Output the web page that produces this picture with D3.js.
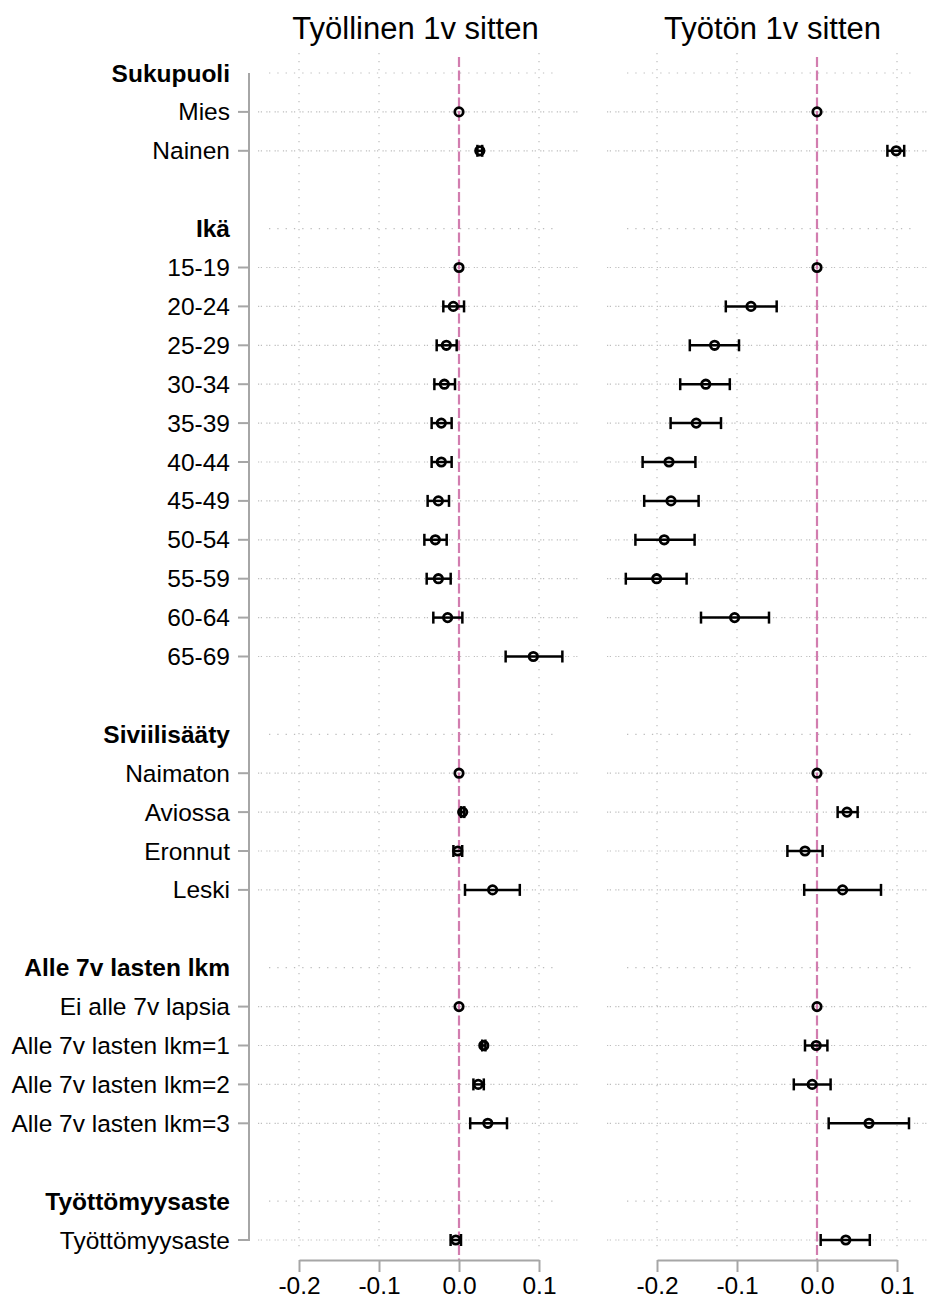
<!DOCTYPE html>
<html>
<head>
<meta charset="utf-8">
<script src="https://cdn.jsdelivr.net/npm/d3@7"></script>
<style>
  html, body { margin: 0; padding: 0; background: #fff; }
  svg { display: block; font-family: "Liberation Sans", Arial, sans-serif; }
</style>
</head>
<body>
<svg id="chart" width="933" height="1299"></svg>
<script>
// ---------------- DATA ----------------
const panelTitles = ["Työllinen 1v sitten", "Työtön 1v sitten"];
const headerRows = ["Sukupuoli", "Ikä", "Siviilisääty", "Alle 7v lasten lkm", "Työttömyysaste"];
const groupCategories = [
  ["Mies", "Nainen"],
  ["15-19", "20-24", "25-29", "30-34", "35-39", "40-44", "45-49", "50-54", "55-59", "60-64", "65-69"],
  ["Naimaton", "Aviossa", "Eronnut", "Leski"],
  ["Ei alle 7v lapsia", "Alle 7v lasten lkm=1", "Alle 7v lasten lkm=2", "Alle 7v lasten lkm=3"],
  ["Työttömyysaste"]
];
const xTicks = [-0.2, -0.1, 0.0, 0.1];

// Panel 1: Työllinen 1v sitten (estimates, lower CI, upper CI) in category order
const employedEst = [0, 0.026,
  0, -0.0071, -0.0158, -0.0183, -0.0221, -0.0221, -0.0258, -0.0296, -0.0258, -0.0142, 0.0929,
  0, 0.0046, -0.0015, 0.042,
  0, 0.031, 0.024, 0.036,
  -0.004];
const employedLo = [null, 0.023,
  null, -0.0196, -0.0279, -0.0308, -0.0342, -0.0342, -0.0392, -0.0433, -0.0404, -0.0321, 0.0583,
  null, 0.0026, -0.007, 0.0075,
  null, 0.029, 0.018, 0.014,
  -0.0105];
const employedHi = [null, 0.029,
  null, 0.0063, -0.0029, -0.005, -0.0092, -0.0092, -0.0125, -0.0154, -0.0104, 0.0042, 0.1292,
  null, 0.0066, 0.004, 0.076,
  null, 0.033, 0.031, 0.060,
  0.0025];

// Panel 2: Työtön 1v sitten
const unemployedEst = [0, 0.099,
  0, -0.0825, -0.128, -0.139, -0.151, -0.185, -0.1825, -0.191, -0.2004, -0.103, null,
  0, 0.0375, -0.015, 0.032,
  0, -0.001, -0.006, 0.065,
  0.036];
const unemployedLo = [null, 0.088,
  null, -0.114, -0.159, -0.171, -0.183, -0.218, -0.216, -0.227, -0.239, -0.145, null,
  null, 0.0258, -0.037, -0.016,
  null, -0.015, -0.029, 0.0146,
  0.0046];
const unemployedHi = [null, 0.109,
  null, -0.0504, -0.0975, -0.109, -0.120, -0.152, -0.148, -0.153, -0.163, -0.060, null,
  null, 0.0508, 0.007, 0.080,
  null, 0.013, 0.017, 0.115,
  0.066];

// ---------------- BUILD ROWS ----------------
const rows = [];
headerRows.forEach((h, gi) => {
  rows.push({id: "h" + gi, label: h, type: "header"});
  groupCategories[gi].forEach((c, ci) => rows.push({id: "c" + gi + "_" + ci, label: c, type: "cat"}));
  if (gi < headerRows.length - 1) rows.push({id: "g" + gi, label: "", type: "gap"});
});
const catRows = rows.filter(r => r.type === "cat");

const panels = [
  {title: panelTitles[0], est: employedEst, lo: employedLo, hi: employedHi,
   range: [299, 539], gridX: [258, 578], headX: [269, 555], titleX: 415.5},
  {title: panelTitles[1], est: unemployedEst, lo: unemployedLo, hi: unemployedHi,
   range: [657, 897], gridX: [607, 927], headX: [627, 913], titleX: 772.5}
];

// ---------------- DRAW ----------------
const svg = d3.select("#chart");
const y = d3.scalePoint().domain(rows.map(r => r.id)).range([73, 1240]);

const gridColor = "#bdbdbd";
const axisColor = "#a6a6a6";
const refColor = "#d27daf";

panels.forEach((p) => {
  const x = d3.scaleLinear().domain([xTicks[0], xTicks[xTicks.length - 1]]).range(p.range);
  const g = svg.append("g");

  // vertical grid
  g.selectAll("line.vgrid").data(xTicks.filter(t => t !== 0)).join("line")
    .attr("x1", d => x(d)).attr("x2", d => x(d))
    .attr("y1", 53).attr("y2", 1253)
    .attr("stroke", gridColor).attr("stroke-width", 1.2)
    .attr("stroke-dasharray", "1.3,6.7");

  // horizontal grid for category rows
  g.selectAll("line.hgrid").data(catRows).join("line")
    .attr("x1", p.gridX[0]).attr("x2", p.gridX[1])
    .attr("y1", d => y(d.id)).attr("y2", d => y(d.id))
    .attr("stroke", gridColor).attr("stroke-width", 1.2)
    .attr("stroke-dasharray", "1.2,1.6,1.2,4.3");

  // horizontal grid for header rows
  g.selectAll("line.hhead").data(rows.filter(r => r.type === "header")).join("line")
    .attr("x1", p.headX[0]).attr("x2", p.headX[1])
    .attr("y1", d => y(d.id)).attr("y2", d => y(d.id))
    .attr("stroke", gridColor).attr("stroke-width", 1.2)
    .attr("stroke-dasharray", "1.3,7");

  // reference line at 0
  g.append("line")
    .attr("x1", x(0)).attr("x2", x(0))
    .attr("y1", 57).attr("y2", 1260)
    .attr("stroke", refColor).attr("stroke-width", 2.2)
    .attr("stroke-dasharray", "10,3.5");

  // x axis
  const axis = d3.axisBottom(x).tickValues(xTicks).tickSizeOuter(0).tickSizeInner(12).tickPadding(5)
    .tickFormat(d => d3.format(".1f")(d).replace("\u2212", "-"));
  const ax = g.append("g").attr("transform", "translate(0,1260)").call(axis);
  ax.select(".domain").attr("stroke", axisColor).attr("stroke-width", 2);
  ax.selectAll(".tick line").attr("stroke", axisColor).attr("stroke-width", 2);
  ax.selectAll(".tick text").attr("fill", "#000").attr("font-size", 24.5)
    .attr("font-family", "Liberation Sans, Arial, sans-serif").attr("dy", "0.71em");

  // title
  g.append("text").attr("x", p.titleX).attr("y", 39)
    .attr("text-anchor", "middle").attr("font-size", 31).attr("fill", "#000")
    .text(p.title);

  // data
  const pts = catRows.map((r, i) => ({id: r.id, est: p.est[i], lo: p.lo[i], hi: p.hi[i]}))
    .filter(d => d.est !== null);
  const ci = pts.filter(d => d.lo !== null);
  g.selectAll("line.ci").data(ci).join("line")
    .attr("x1", d => x(d.lo)).attr("x2", d => x(d.hi))
    .attr("y1", d => y(d.id)).attr("y2", d => y(d.id))
    .attr("stroke", "#000").attr("stroke-width", 2.5);
  g.selectAll("line.capl").data(ci).join("line")
    .attr("x1", d => x(d.lo)).attr("x2", d => x(d.lo))
    .attr("y1", d => y(d.id) - 6).attr("y2", d => y(d.id) + 6)
    .attr("stroke", "#000").attr("stroke-width", 2.5);
  g.selectAll("line.caph").data(ci).join("line")
    .attr("x1", d => x(d.hi)).attr("x2", d => x(d.hi))
    .attr("y1", d => y(d.id) - 6).attr("y2", d => y(d.id) + 6)
    .attr("stroke", "#000").attr("stroke-width", 2.5);
  g.selectAll("circle.pt").data(pts).join("circle")
    .attr("cx", d => x(d.est)).attr("cy", d => y(d.id)).attr("r", 4.2)
    .attr("fill", "none").attr("stroke", "#000").attr("stroke-width", 2.8);
});

// y axis
const yax = svg.append("g");
yax.append("line").attr("x1", 249).attr("x2", 249).attr("y1", 73).attr("y2", 1241)
  .attr("stroke", axisColor).attr("stroke-width", 2);
yax.selectAll("line.yt").data(catRows).join("line")
  .attr("x1", 238).attr("x2", 249)
  .attr("y1", d => y(d.id)).attr("y2", d => y(d.id))
  .attr("stroke", axisColor).attr("stroke-width", 2);
yax.selectAll("text.yl").data(rows.filter(r => r.type !== "gap")).join("text")
  .attr("x", 230).attr("y", d => y(d.id)).attr("dy", "0.35em")
  .attr("text-anchor", "end").attr("font-size", 24.5).attr("fill", "#000")
  .attr("font-weight", d => d.type === "header" ? "bold" : "normal")
  .text(d => d.label);
</script>
</body>
</html>
